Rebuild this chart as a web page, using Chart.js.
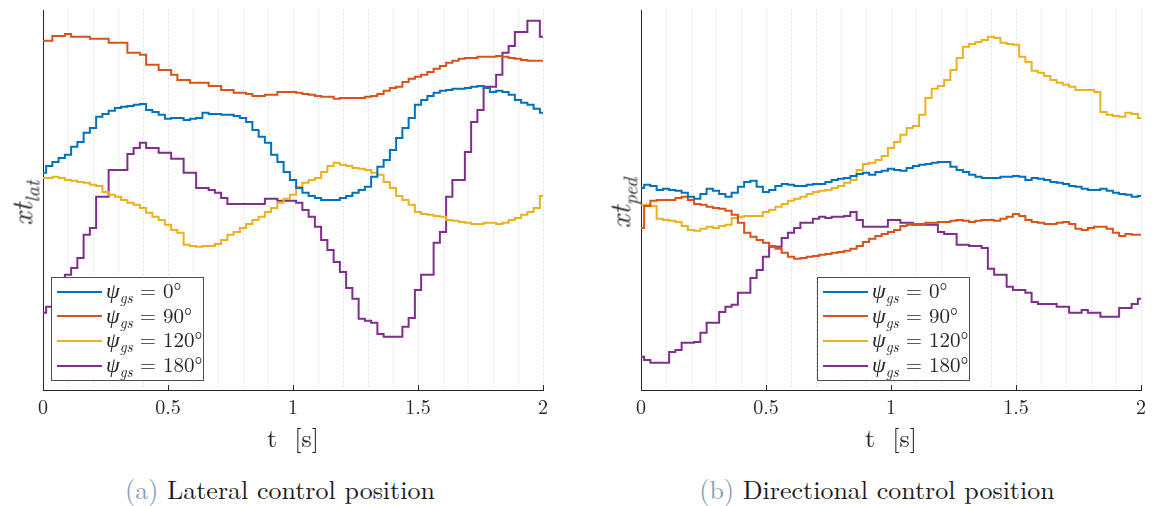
<!DOCTYPE html>
<html>
<head>
<meta charset="utf-8">
<script src="https://cdn.jsdelivr.net/npm/chart.js@4.4.1/dist/chart.umd.min.js"></script>
<style>
  html, body { margin: 0; background: #fff; overflow: hidden; }
  #page { position: relative; width: 1152px; height: 506px; overflow: hidden;
          font-family: 'Latin Modern Roman', 'Liberation Serif', serif; color: #262626; }
  .panel { position: absolute; top: 0; width: 554px; height: 460px; }
  .ytitle { position: absolute; top: 203px; transform: translate(-50%, -50%) rotate(-90deg);
            white-space: nowrap; font-style: italic; font-size: 29px; line-height: 1; }
  .ytitle sub { font-size: 20px; vertical-align: -0.35em; line-height: 0; }
  .legend { position: absolute; top: 277px; width: 151px; height: 101px;
            background: #fff; border: 1px solid #4d4d4d; padding-top: 1px; box-sizing: content-box; }
  .row { position: relative; height: 24.7px; font-size: 21px; line-height: 24.7px; white-space: nowrap; }
  .row .sw { position: absolute; left: 5px; top: 11.5px; width: 45px; height: 2px; }
  .row .tx { position: absolute; left: 54px; top: -2px; }
  .row i { font-family: 'Liberation Serif', serif; font-size: 22px; }
  .row sub { font-size: 15px; font-style: italic; vertical-align: -0.3em; line-height: 0; }
  .caption { position: absolute; top: 476px; transform: translateX(-50%); font-size: 26px;
             line-height: 1; white-space: nowrap; color: #1a1a1a; }
  .caption span { color: #7f9fba; }
</style>
</head>
<body>
<div id="page">
  <div class="panel" style="left:0">
    <canvas id="lat"></canvas>
    <div class="ytitle" style="left:20px">xt<sub>lat</sub></div>
    <div class="legend" id="legLat" style="left:51px"></div>
  </div>
  <div class="panel" style="left:598px">
    <canvas id="ped"></canvas>
    <div class="ytitle" style="left:20px">xt<sub>ped</sub></div>
    <div class="legend" id="legPed" style="left:219px"></div>
  </div>
  <div class="caption" style="left:280px"><span>(a)</span> Lateral control position</div>
  <div class="caption" style="left:877px"><span>(b)</span> Directional control position</div>
</div>
<script>
// heading angles of the four runs and their line colours
const angles = [0, 90, 120, 180];
const colors = ['#0072BD', '#D95319', '#EDB120', '#7E2F8E'];
const majorTicks = [0, 0.5, 1, 1.5, 2];
const dt = 0.025;

// lateral stick position, sampled every 25 ms
const lat0 = [
  54.3, 56, 57, 58, 58.8, 60.8, 62, 64.3, 65.5, 68.3,
  69, 69.8, 70.5, 70.8, 71, 71.3, 71.5, 70, 69.5, 68.8,
  67.8, 68, 68, 67.5, 67.8, 68, 69.3, 69, 69, 68.8,
  68.8, 68.5, 68, 67, 65, 63.3, 61.8, 58.8, 57, 54.5,
  52.5, 50.5, 49.3, 48.5, 48, 47.5, 47.5, 47.5, 48, 48.5,
  49.3, 50, 50.8, 53.3, 55.8, 57.5, 60, 63, 65.5, 68,
  71.3, 72.5, 73.5, 74.3, 74.8, 75, 75.3, 75.3, 75.5, 75.8,
  76, 75.5, 74.5, 74.8, 74.5, 73.8, 72.5, 71.8, 71.3, 70.3,
  69.3];
const lat90 = [
  87.3, 87.3, 88.5, 88.5, 89, 88.3, 88.3, 88.3, 87.8, 87.8,
  87.8, 86.8, 86.8, 86.8, 84.3, 84.3, 83.8, 81.3, 81.3, 80,
  80, 78.8, 77.5, 77.5, 76.8, 76.8, 76.8, 76, 76, 75,
  75, 74.3, 74.3, 74, 73.5, 73.5, 73.8, 73.8, 74.5, 74.5,
  74.5, 74.3, 74, 73.8, 73.5, 73.3, 73.3, 72.8, 73, 73,
  73, 73, 73.3, 73.5, 74, 74.8, 75.5, 75.8, 77, 77.8,
  78.3, 78.8, 79.5, 80.3, 81, 81.8, 82.3, 82.8, 83, 83,
  83.3, 83.3, 83.3, 83.5, 83.3, 83, 82.8, 82.5, 82.3, 82.3,
  82.3];
const lat120 = [
  53, 53, 53.3, 53, 52.5, 52.3, 52, 51.8, 51.3, 51,
  49.5, 48.8, 48.3, 47.5, 46.8, 46.3, 45.5, 44.3, 43.3, 42.5,
  41.3, 40, 39.3, 36.3, 36, 35.8, 36, 36, 36.5, 37.5,
  38.8, 39.5, 40.5, 41.5, 42.5, 43.3, 44.5, 45.5, 46.8, 47.8,
  48.8, 50.8, 51.8, 52.5, 53, 54.5, 56, 56.8, 56.3, 56,
  55.5, 55.3, 55, 54.3, 53.8, 52, 50.5, 48.5, 47.5, 46.3,
  44.5, 44, 43.8, 43.5, 43.3, 42.5, 42.3, 42, 41.8, 41.5,
  41.5, 41.8, 41.8, 41.5, 41.8, 42.5, 43, 43.8, 44.5, 45.5,
  48.5];
const lat180 = [
  19.3, 20.8, 22.5, 25, 28.8, 30.5, 33, 38.8, 40.5, 48.3,
  48.3, 55, 55, 55, 59, 60.5, 61.8, 60.5, 60.5, 59.3,
  59.3, 57.8, 57.8, 54.3, 54.3, 50.5, 50.5, 50, 49.3, 48,
  46.5, 46.5, 46.5, 46.5, 46.5, 46.5, 47.8, 47.8, 47.3, 47.3,
  47.3, 46.8, 45, 43.3, 40.8, 37.5, 35, 32, 29.5, 25.5,
  22.8, 17.8, 17.3, 16.8, 14, 13.3, 13.3, 13.3, 15.8, 18,
  25, 28.8, 28.8, 36.8, 39.5, 48.3, 52.5, 52.5, 59.5, 67,
  70, 75.8, 75.8, 78.8, 84.3, 86, 89.5, 89.5, 92.3, 92.3,
  88.3];

// pedal position, same sampling
const ped0 = [
  50.5, 51.3, 51, 50, 50.3, 50, 49.8, 49.3, 48.3, 47.8,
  49, 50.3, 49.8, 49, 48.3, 49.3, 50.8, 52, 52.3, 50.8,
  49.5, 50, 51, 51.5, 51.3, 51, 51, 51.3, 51.5, 51.5,
  52, 52.5, 52.8, 53, 53.5, 54, 54.3, 53.8, 54.5, 54.8,
  55.3, 55, 54.8, 55.5, 56, 56.3, 56.5, 56.8, 57, 57,
  55.8, 55, 54.5, 53.8, 53.3, 53, 53, 53, 53.3, 53.3,
  53.5, 53.3, 52.5, 53, 52.8, 52.5, 52, 51.8, 51.5, 51,
  50.8, 50.3, 50, 50, 50.3, 49.8, 49.3, 49, 48.8, 48.3,
  48.5];
const ped90 = [
  40.5, 46, 47.3, 47.5, 47.5, 47.5, 48, 48.3, 47.5, 46.5,
  46.3, 45.8, 45.5, 45.3, 44.8, 43.8, 41.8, 39.3, 38.3, 37.5,
  36.8, 36, 35.3, 34.3, 33.3, 32.8, 33, 33.3, 33.5, 33.8,
  34, 34.3, 34.5, 34.8, 35.3, 36, 37, 37.8, 38.5, 39,
  39.5, 40, 41, 41.3, 41.5, 41.5, 41.8, 41.8, 42, 42,
  42.3, 42.5, 42.3, 42, 42.3, 42.5, 42.5, 42.3, 42.8, 43.3,
  44, 43.5, 42.5, 42, 41.8, 41.5, 41.5, 41.8, 42, 41.5,
  40.3, 40, 40.5, 40.8, 40.8, 40.3, 39.3, 38.5, 39, 38.8,
  38.8];
const ped120 = [
  46.3, 46.3, 46, 42.8, 42.5, 42.3, 42, 41, 40, 39.8,
  40.3, 40.8, 40.5, 41, 41.3, 43, 43.3, 43.5, 43.5, 43.5,
  44.5, 45, 45.8, 46.5, 47.3, 47.8, 48.3, 49, 49.5, 49.8,
  50, 50.5, 51, 51.8, 52.5, 55, 56.5, 56.8, 57.5, 58.5,
  60.5, 62, 63.8, 65.5, 66, 68.8, 73, 75.3, 76, 77.5,
  80, 83, 85.8, 86.5, 87, 87.5, 88.3, 88, 86.8, 86.5,
  86.3, 83.3, 82, 79.8, 79.3, 78.5, 77.5, 76.8, 76.3, 75.8,
  75, 75, 75, 74.5, 69.5, 68.8, 68.5, 68.3, 69.3, 69,
  68];
const ped180 = [
  8.3, 7.5, 6.8, 6.8, 6.8, 9.5, 10, 11.8, 11.8, 12,
  14.3, 16.8, 16.8, 19.5, 20.8, 21.3, 24.3, 24.3, 28, 30,
  33.3, 35.8, 35.8, 38, 39.3, 40.5, 41.8, 41.8, 42.8, 43.3,
  43, 43.3, 43.3, 43.5, 44.5, 42.5, 40.8, 40.8, 40.8, 40.8,
  42.5, 42.5, 41.8, 41.8, 41.3, 41.3, 41.3, 41.3, 39.5, 39,
  39, 36.3, 36.3, 36, 36, 35.5, 30.3, 28.8, 28.8, 25.8,
  25, 25, 24.3, 22, 21.5, 21.5, 21.5, 20.8, 20.8, 19.3,
  19.3, 20, 19.3, 19.3, 18.3, 18.3, 18.3, 20.5, 20.5, 21.5,
  22.8];

const FONT = "'Latin Modern Roman', 'Liberation Serif', serif";
const INK = '#262626';

// short inward tick marks at the labelled x positions
const innerTicks = {
  id: 'innerTicks',
  afterDraw(chart) {
    const { ctx, chartArea } = chart;
    const x = chart.scales.x;
    ctx.save();
    ctx.strokeStyle = INK;
    ctx.lineWidth = 1;
    majorTicks.forEach(v => {
      const px = Math.round(x.getPixelForValue(v)) + 0.5;
      ctx.beginPath();
      ctx.moveTo(px, chartArea.bottom);
      ctx.lineTo(px, chartArea.bottom - 5);
      ctx.stroke();
    });
    ctx.restore();
  }
};

function buildLegend(id) {
  const box = document.getElementById(id);
  angles.forEach((a, i) => {
    const row = document.createElement('div');
    row.className = 'row';
    row.innerHTML = '<span class="sw" style="background:' + colors[i] + '"></span>' +
      '<span class="tx"><i>ψ</i><sub>gs</sub> = ' + a + '°</span>';
    box.appendChild(row);
  });
}

function plot(id, series) {
  const datasets = series.map((s, i) => ({
    label: 'ψgs = ' + angles[i] + '°',
    data: s.map((v, k) => ({ x: k * dt, y: v })),
    borderColor: colors[i],
    borderWidth: 2,
    pointRadius: 0,
    stepped: 'middle',
    fill: false
  }));

  return new Chart(document.getElementById(id), {
    type: 'line',
    data: { datasets },
    plugins: [innerTicks],
    options: {
      responsive: true,
      maintainAspectRatio: false,
      animation: false,
      layout: { padding: { top: 10, right: 8, left: 0, bottom: 0 } },
      plugins: { legend: { display: false }, tooltip: { enabled: false } },
      scales: {
        x: {
          type: 'linear',
          min: 0,
          max: 2,
          afterFit(s) { s.height = 70; },
          ticks: {
            stepSize: 0.1,
            autoSkip: false,
            maxRotation: 0,
            padding: 6,
            color: INK,
            font: { family: FONT, size: 20 },
            callback(v) {
              const m = majorTicks.find(t => Math.abs(t - v) < 1e-6);
              return m === undefined ? '' : String(m);
            }
          },
          grid: { color: '#cdcdcd', lineWidth: 1, drawTicks: false },
          border: { display: true, color: INK, width: 1, dash: [1, 3] },
          title: {
            display: true,
            text: 't  [s]',
            color: INK,
            font: { family: FONT, size: 26 },
            padding: { top: 0, bottom: 5 }
          }
        },
        y: {
          min: 0,
          max: 95,
          afterFit(s) { s.width = 43; },
          ticks: { display: false },
          grid: { display: false },
          border: { display: true, color: INK, width: 1 }
        }
      }
    }
  });
}

buildLegend('legLat');
buildLegend('legPed');
plot('lat', [lat0, lat90, lat120, lat180]);
plot('ped', [ped0, ped90, ped120, ped180]);
</script>
</body>
</html>
